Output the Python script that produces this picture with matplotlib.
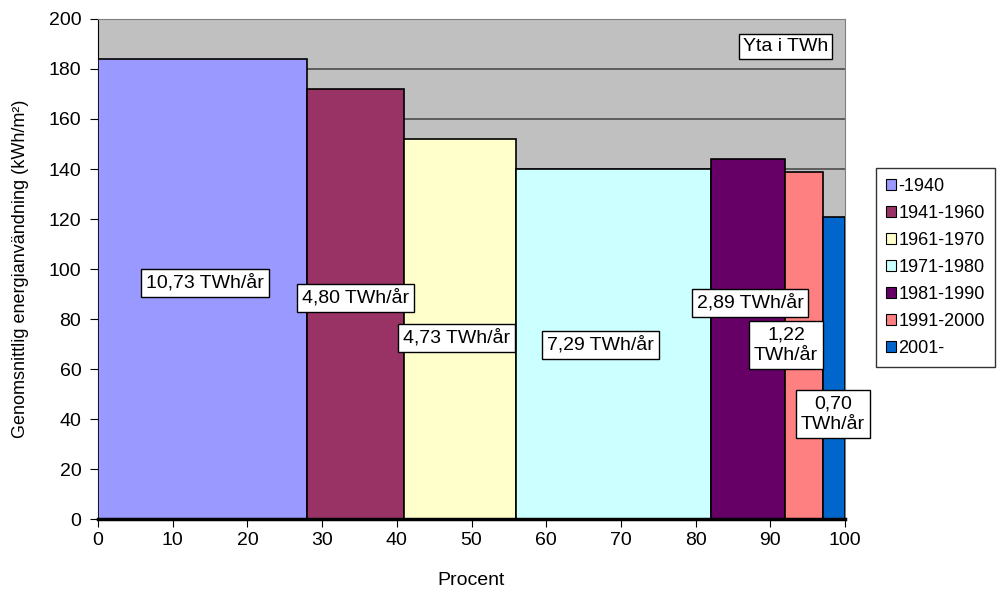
import numpy as np
import matplotlib.pyplot as plt
from matplotlib.patches import Patch

plt.rcParams['font.family'] = ['Liberation Sans', 'DejaVu Sans']

periods = ["-1940", "1941-1960", "1961-1970", "1971-1980", "1981-1990", "1991-2000", "2001-"]
shares = [28, 13, 15, 26, 10, 5, 3]          # width in percent
energy = [184, 172, 152, 140, 144, 139, 121]  # kWh/m2
labels = ["10,73 TWh/år", "4,80 TWh/år", "4,73 TWh/år", "7,29 TWh/år",
          "2,89 TWh/år", "1,22\nTWh/år", "0,70\nTWh/år"]
colors = ["#9999FF", "#993366", "#FFFFCC", "#CCFFFF", "#660066", "#FF8080", "#0066CC"]

# label positions (data coords)
label_x = [14.3, 34.5, 48.0, 67.3, 87.3, 92.1, 98.4]
label_y = [94.4, 88.4, 72.4, 69.6, 86.4, 69.6, 42.0]

left = np.concatenate([[0], np.cumsum(shares)[:-1]])

fig = plt.figure(figsize=(10, 5.92), dpi=100)
ax = fig.add_axes([0.098, 0.123, 0.747, 0.845])
ax.set_facecolor("#C0C0C0")

ax.bar(left, energy, width=shares, align="edge", color=colors,
       edgecolor="black", linewidth=1.2, zorder=3)

for x, y, t in zip(label_x, label_y, labels):
    ax.text(x, y, t, ha="center", va="center", fontsize=14, zorder=5, linespacing=1.3,
            bbox=dict(boxstyle="square,pad=0.25", facecolor="white", edgecolor="black", linewidth=1))

ax.text(92, 189, "Yta i TWh", ha="center", va="center", fontsize=14, zorder=5,
        bbox=dict(boxstyle="square,pad=0.2", facecolor="white", edgecolor="black", linewidth=1))

ax.set_xlim(0, 100)
ax.set_ylim(0, 200)
ax.set_xticks(np.arange(0, 101, 10))
ax.set_yticks(np.arange(0, 201, 20))
ax.tick_params(labelsize=14, direction="out", length=6, color="black")
ax.tick_params(axis="y", pad=6)
ax.yaxis.grid(True, color="#555555", linewidth=1.3, zorder=1)
ax.set_axisbelow(True)

ax.spines["bottom"].set_linewidth(2.5)
ax.spines["bottom"].set_zorder(4)
ax.spines["left"].set_color("black")
ax.spines["top"].set_color("#808080")
ax.spines["right"].set_color("#808080")

ax.set_xlabel("Procent", fontsize=14, labelpad=16)
ax.set_ylabel("Genomsnittlig energianvändning (kWh/m²)", fontsize=13, labelpad=14)

handles = [Patch(facecolor=c, edgecolor="black", linewidth=0.8) for c in colors]
leg = fig.legend(handles, periods, loc="upper left", bbox_to_anchor=(0.876, 0.716),
                 fontsize=13, frameon=True, fancybox=False, edgecolor="black",
                 handlelength=0.55, handleheight=0.55, handletextpad=0.15,
                 labelspacing=0.55, borderpad=0.55, borderaxespad=0)
leg.get_frame().set_linewidth(1)

fig.savefig("out.png", dpi=100)
